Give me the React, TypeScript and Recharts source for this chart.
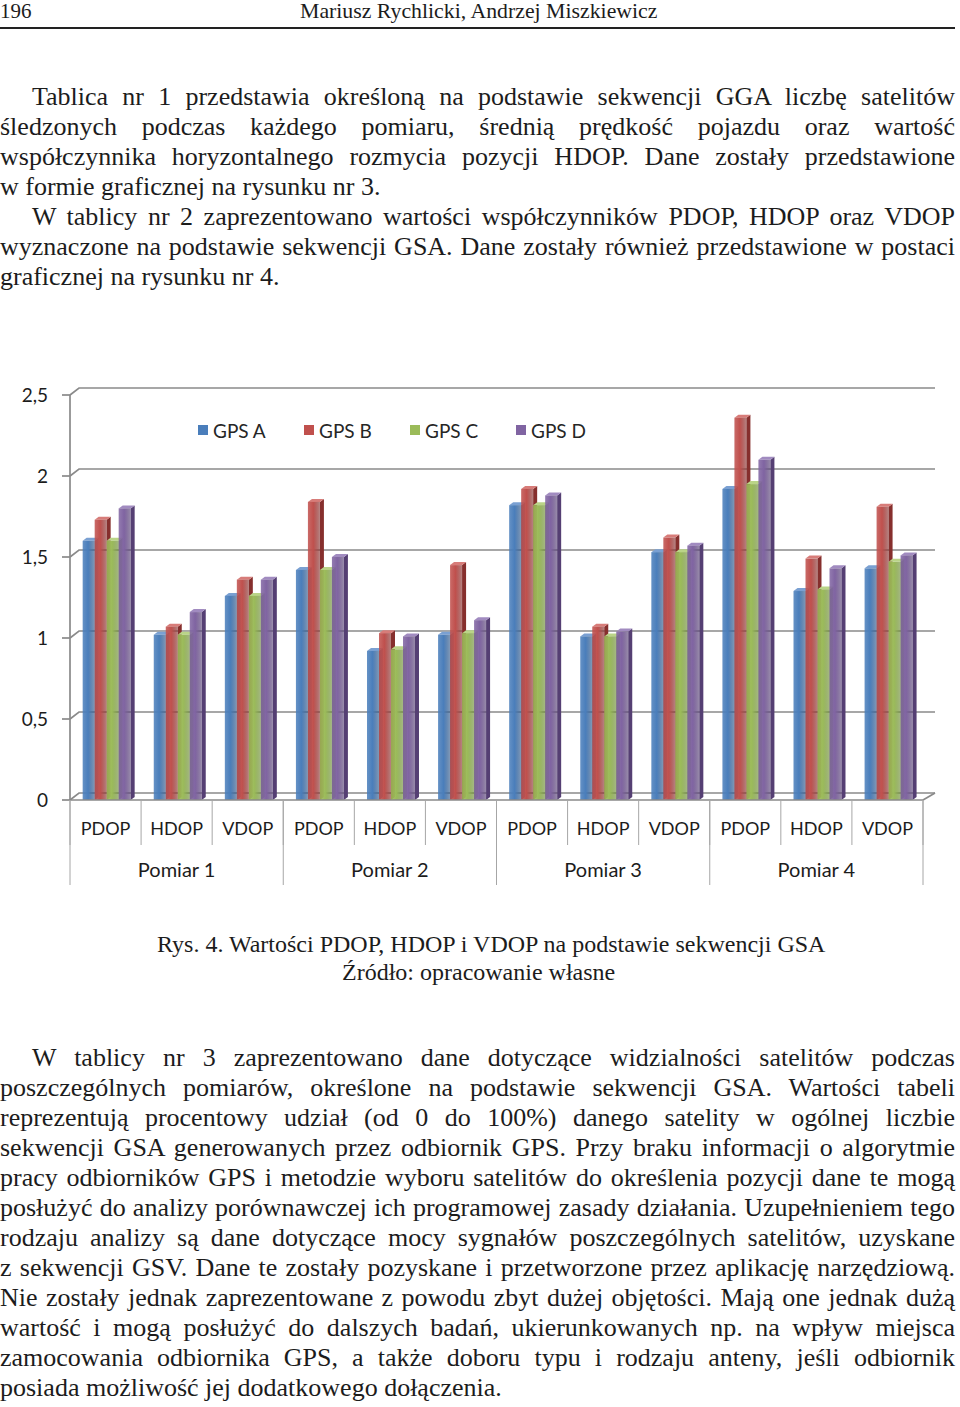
import React from "react";
import {
  BarChart,
  Bar,
  XAxis,
  YAxis,
  CartesianGrid,
  Legend,
  ReferenceLine,
} from "recharts";

// chart values
const categories = [
  "PDOP", "HDOP", "VDOP",
  "PDOP", "HDOP", "VDOP",
  "PDOP", "HDOP", "VDOP",
  "PDOP", "HDOP", "VDOP",
];
const groups = ["Pomiar 1", "Pomiar 2", "Pomiar 3", "Pomiar 4"];
const gpsA = [1.6, 1.02, 1.26, 1.42, 0.92, 1.02, 1.82, 1.01, 1.53, 1.92, 1.29, 1.43];
const gpsB = [1.73, 1.07, 1.36, 1.84, 1.03, 1.45, 1.92, 1.07, 1.62, 2.36, 1.49, 1.81];
const gpsC = [1.6, 1.02, 1.26, 1.42, 0.93, 1.03, 1.82, 1.01, 1.53, 1.95, 1.3, 1.47];
const gpsD = [1.8, 1.16, 1.36, 1.5, 1.01, 1.11, 1.88, 1.04, 1.57, 2.1, 1.43, 1.51];
const yTicks = [0, 0.5, 1, 1.5, 2, 2.5];

// page text
const para1 = [
  "Tablica nr 1 przedstawia określoną na podstawie sekwencji GGA liczbę satelitów",
  "śledzonych podczas każdego pomiaru, średnią prędkość pojazdu oraz wartość",
  "współczynnika horyzontalnego rozmycia pozycji HDOP. Dane zostały przedstawione",
  "w formie graficznej na rysunku nr 3.",
];
const para2 = [
  "W tablicy nr 2 zaprezentowano wartości współczynników PDOP, HDOP oraz VDOP",
  "wyznaczone na podstawie sekwencji GSA. Dane zostały również przedstawione w postaci",
  "graficznej na rysunku nr 4.",
];
const para3 = [
  "W tablicy nr 3 zaprezentowano dane dotyczące widzialności satelitów podczas",
  "poszczególnych pomiarów, określone na podstawie sekwencji GSA. Wartości tabeli",
  "reprezentują procentowy udział (od 0 do 100%) danego satelity w ogólnej liczbie",
  "sekwencji GSA generowanych przez odbiornik GPS. Przy braku informacji o algorytmie",
  "pracy odbiorników GPS i metodzie wyboru satelitów do określenia pozycji dane te mogą",
  "posłużyć do analizy porównawczej ich programowej zasady działania. Uzupełnieniem tego",
  "rodzaju analizy są dane dotyczące mocy sygnałów poszczególnych satelitów, uzyskane",
  "z sekwencji GSV. Dane te zostały pozyskane i przetworzone przez aplikację narzędziową.",
  "Nie zostały jednak zaprezentowane z powodu zbyt dużej objętości. Mają one jednak dużą",
  "wartość i mogą posłużyć do dalszych badań, ukierunkowanych np. na wpływ miejsca",
  "zamocowania odbiornika GPS, a także doboru typu i rodzaju anteny, jeśli odbiornik",
  "posiada możliwość jej dodatkowego dołączenia.",
];

const series = [
  { key: "a", name: "GPS A", color: "#4a7ebb", side: "#2e5687", top: "#7aa0d2" },
  { key: "b", name: "GPS B", color: "#c0504d", side: "#862f2d", top: "#d77c79" },
  { key: "c", name: "GPS C", color: "#9bbb59", side: "#6a8a33", top: "#bad488" },
  { key: "d", name: "GPS D", color: "#8064a2", side: "#553f73", top: "#a18bc0" },
];

const data = categories.map((name, i) => ({
  name,
  group: groups[Math.floor(i / 3)],
  a: gpsA[i],
  b: gpsB[i],
  c: gpsC[i],
  d: gpsD[i],
}));

const SERIF = "'Liberation Serif', 'Times New Roman', serif";
const CHART_FONT = "Lato, 'Open Sans', sans-serif";
const TEXT = "#1c1c1c";
const GRID = "#8a8a8a";

const CHART_W = 960;
const CHART_H = 530;
const MARGIN = { top: 25, right: 37, left: 0, bottom: 15 };
const Y_W = 70;
const BAND = (CHART_W - MARGIN.left - MARGIN.right - Y_W) / categories.length;
const WALL_DX = 9;
const WALL_DY = 7;

const make3D = (s: any) => (p: any) => {
  const { x, y, width, height } = p;
  if (!height || height <= 0) return <g />;
  const bx = x + 2;
  const dx = 4;
  const dy = 3;
  const r = bx + width;
  return (
    <g>
      <polygon
        points={`${r},${y} ${r + dx},${y - dy} ${r + dx},${y + height - dy} ${r},${y + height}`}
        fill={s.side}
      />
      <polygon
        points={`${bx},${y} ${bx + dx},${y - dy} ${r + dx},${y - dy} ${r},${y}`}
        fill={s.top}
      />
      <rect x={bx} y={y} width={width} height={height} fill={`url(#grad-${s.key})`} />
    </g>
  );
};

const gridLine = (p: any) => {
  const { x1, x2, y1 } = p;
  return (
    <polyline
      key={`grid-${y1}`}
      points={`${x1},${y1} ${x1 + WALL_DX},${y1 - WALL_DY} ${x2 + 12},${y1 - WALL_DY}`}
      fill="none"
      stroke={GRID}
      strokeWidth={1.7}
    />
  );
};

const floorEdge = (p: any) => {
  const { x2, y1 } = p;
  return (
    <line
      x1={x2}
      y1={y1}
      x2={x2 + 12}
      y2={y1 - WALL_DY}
      stroke={GRID}
      strokeWidth={1.7}
    />
  );
};

const CatTick = (p: any) => {
  const { x, y, payload, index } = p;
  return (
    <g>
      <line x1={x - BAND / 2} y1={y} x2={x - BAND / 2} y2={y + 45} stroke="#a6a6a6" />
      {index === categories.length - 1 && (
        <line x1={x + BAND / 2} y1={y} x2={x + BAND / 2} y2={y + 45} stroke="#a6a6a6" />
      )}
      <text
        x={x}
        y={y + 28}
        textAnchor="middle"
        dominantBaseline="central"
        fontFamily={CHART_FONT}
        fontSize={18}
        fill={TEXT}
      >
        {payload.value}
      </text>
    </g>
  );
};

const GroupTick = (p: any) => {
  const { x, y, index } = p;
  const row = data[index];
  return (
    <g>
      {index % 3 === 0 && (
        <line x1={x - BAND / 2} y1={y - 45} x2={x - BAND / 2} y2={y + 40} stroke="#a6a6a6" />
      )}
      {index === categories.length - 1 && (
        <line x1={x + BAND / 2} y1={y - 45} x2={x + BAND / 2} y2={y + 40} stroke="#a6a6a6" />
      )}
      {index % 3 === 1 && (
        <text
          x={x}
          y={y + 24}
          textAnchor="middle"
          dominantBaseline="central"
          fontFamily={CHART_FONT}
          fontSize={20}
          fill={TEXT}
        >
          {row.group}
        </text>
      )}
    </g>
  );
};

const LegendContent = () => (
  <div style={{ display: "flex", fontFamily: CHART_FONT, fontSize: 19, color: "#262626" }}>
    {series.map((s) => (
      <div key={s.key} style={{ width: 106, display: "flex", alignItems: "center", height: 24 }}>
        <span
          style={{ display: "inline-block", width: 10, height: 10, background: s.color, marginRight: 5 }}
        />
        {s.name}
      </div>
    ))}
  </div>
);

const TextLine = ({ text, indent, last }: any) => (
  <div
    style={{
      whiteSpace: "nowrap",
      textAlign: last ? "left" : "justify",
      textAlignLast: last ? "left" : "justify",
      paddingLeft: indent ? 32 : 0,
      height: 30,
      lineHeight: "30px",
    }}
  >
    {text}
  </div>
);

const Paragraph = ({ lines }: { lines: string[] }) => (
  <>
    {lines.map((t, i) => (
      <TextLine key={i} text={t} indent={i === 0} last={i === lines.length - 1} />
    ))}
  </>
);

export default function App() {
  return (
    <div
      style={{
        position: "absolute",
        left: 0,
        top: 0,
        width: 960,
        height: 1407,
        background: "#fff",
        color: TEXT,
        fontFamily: SERIF,
        overflow: "hidden",
      }}
    >
      <div style={{ position: "absolute", left: 0, top: 3, fontSize: 21, lineHeight: "16px" }}>196</div>
      <div style={{ position: "absolute", left: 300, top: 3, fontSize: 21.8, lineHeight: "16px" }}>
        Mariusz Rychlicki, Andrzej Miszkiewicz
      </div>
      <div style={{ position: "absolute", left: 0, top: 27, width: 955, height: 2, background: "#222" }} />

      <div style={{ position: "absolute", left: 0, top: 82, width: 955, fontSize: 26 }}>
        <Paragraph lines={para1} />
        <Paragraph lines={para2} />
      </div>

      <div style={{ position: "absolute", left: 0, top: 370 }}>
        <BarChart
          width={CHART_W}
          height={CHART_H}
          data={data}
          margin={MARGIN}
          barCategoryGap="15%"
          barGap={0}
        >
          <defs>
            {series.map((s) => (
              <linearGradient key={s.key} id={`grad-${s.key}`} x1="0" y1="0" x2="1" y2="0">
                <stop offset="0%" stopColor={s.color} stopOpacity={0.85} />
                <stop offset="45%" stopColor={s.color} />
                <stop offset="100%" stopColor={s.side} stopOpacity={0.6} />
              </linearGradient>
            ))}
          </defs>
          <CartesianGrid vertical={false} horizontal={gridLine} />
          <XAxis
            dataKey="name"
            interval={0}
            height={45}
            tickSize={0}
            tickMargin={0}
            tickLine={false}
            axisLine={{ stroke: GRID, strokeWidth: 1.7 }}
            tick={<CatTick />}
          />
          <XAxis
            xAxisId="grp"
            dataKey="name"
            interval={0}
            height={40}
            tickSize={0}
            tickMargin={0}
            tickLine={false}
            axisLine={false}
            tick={<GroupTick />}
          />
          <YAxis
            width={Y_W}
            domain={[0, 2.5]}
            ticks={yTicks}
            tickSize={8}
            tickMargin={14}
            axisLine={{ stroke: GRID, strokeWidth: 1.7 }}
            tickLine={{ stroke: GRID, strokeWidth: 1.7 }}
            tick={{ fill: TEXT, fontSize: 19, fontFamily: CHART_FONT }}
            tickFormatter={(v: number) => String(v).replace(".", ",")}
          />
          <ReferenceLine y={0} shape={floorEdge} />
          <Legend
            layout="horizontal"
            verticalAlign="middle"
            align="center"
            content={<LegendContent />}
            wrapperStyle={{ top: 48, left: 198, width: "auto" }}
          />
          {series.map((s) => (
            <Bar
              key={s.key}
              dataKey={s.key}
              name={s.name}
              fill={s.color}
              shape={make3D(s)}
              isAnimationActive={false}
            />
          ))}
        </BarChart>
      </div>

      <div style={{ position: "absolute", left: 157, top: 930, fontSize: 24, lineHeight: "28px" }}>
        Rys. 4. Wartości PDOP, HDOP i VDOP na podstawie sekwencji GSA
      </div>
      <div style={{ position: "absolute", left: 342, top: 958, fontSize: 24, lineHeight: "28px" }}>
        Źródło: opracowanie własne
      </div>

      <div style={{ position: "absolute", left: 0, top: 1043, width: 955, fontSize: 26 }}>
        <Paragraph lines={para3} />
      </div>
    </div>
  );
}
